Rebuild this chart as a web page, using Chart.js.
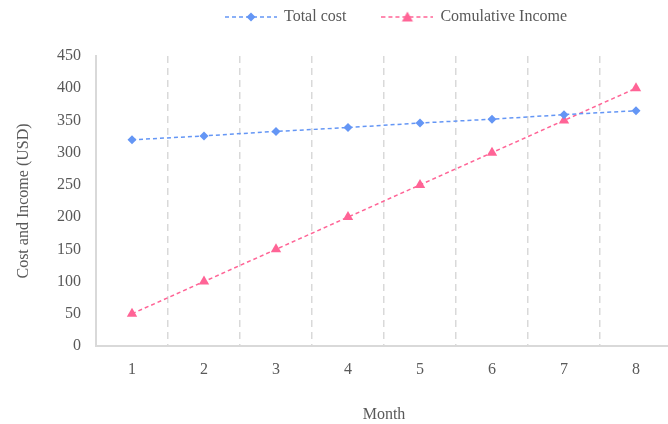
<!DOCTYPE html>
<html>
<head>
<meta charset="utf-8">
<script src="https://cdn.jsdelivr.net/npm/chart.js@4/dist/chart.umd.min.js"></script>
<style>
  html, body { margin: 0; padding: 0; background: #fff; overflow: hidden; }
  #wrap { width: 668px; height: 424px; overflow: hidden; }
</style>
</head>
<body>
<div id="wrap"><canvas id="chart" width="680" height="424"></canvas></div>
<script>
// data
var months = ["1", "2", "3", "4", "5", "6", "7", "8"];
var totalCost = [320, 326, 333, 339, 346, 352, 359, 365];
var cumIncome = [50, 100, 150, 200, 250, 300, 350, 400];
var yTicks = [0, 50, 100, 150, 200, 250, 300, 350, 400, 450];

var blue = "#6496f5";
var pink = "#ff6496";
var grey = "#595959";
var font = "'Liberation Serif', 'Times New Roman', serif";

// legend sample: dashed line with the marker in the middle
function legendSample(color, shape) {
    var c = document.createElement("canvas");
    c.width = 52; c.height = 14;
    var g = c.getContext("2d");
    g.strokeStyle = color;
    g.lineWidth = 1.5;
    g.setLineDash([4, 3]);
    g.beginPath(); g.moveTo(0, 7); g.lineTo(52, 7); g.stroke();
    g.fillStyle = color;
    g.beginPath();
    if (shape == "diamond") {
        g.moveTo(26, 2.5); g.lineTo(30.5, 7); g.lineTo(26, 11.5); g.lineTo(21.5, 7);
    } else {
        g.moveTo(26, 1.5); g.lineTo(31.5, 11.5); g.lineTo(20.5, 11.5);
    }
    g.closePath(); g.fill();
    return c;
}
var samples = [legendSample(blue, "diamond"), legendSample(pink, "triangle")];

var legendGap = 36;

var legendPlace = {
    id: "legendPlace",
    beforeLayout: function (chart) {
        var lg = chart.legend;
        if (lg && !lg._wrapped) {
            var f = lg.fit;
            lg.fit = function () { f.call(this); this.height = 56; };
            lg._wrapped = true;
        }
    },
    afterLayout: function (chart) {
        var lg = chart.legend;
        lg.left = 226 - legendGap;
        lg.top = 17 - legendGap - 8;
    }
};

var ctx = document.getElementById("chart").getContext("2d");

var chart = new Chart(ctx, {
    type: "line",
    data: {
        labels: months,
        datasets: [{
            label: "Total cost",
            data: totalCost,
            borderColor: blue,
            backgroundColor: blue,
            borderWidth: 1.5,
            borderDash: [4, 3],
            pointStyle: "rectRot",
            pointRadius: 4.5,
            pointBorderWidth: 0,
            fill: false
        }, {
            label: "Comulative Income",
            data: cumIncome,
            borderColor: pink,
            backgroundColor: pink,
            borderWidth: 1.5,
            borderDash: [4, 3],
            pointStyle: "triangle",
            pointRadius: 6,
            pointBorderWidth: 0,
            fill: false
        }]
    },
    options: {
        responsive: false,
        animation: false,
        layout: { padding: { left: 0, right: 8, top: 0, bottom: 0 } },
        plugins: {
            tooltip: { enabled: false },
            legend: {
                position: "top",
                align: "start",
                labels: {
                    usePointStyle: true,
                    pointStyleWidth: 50,
                    padding: legendGap,
                    color: grey,
                    font: { family: font, size: 16 },
                    generateLabels: function (chart) {
                        return Chart.defaults.plugins.legend.labels.generateLabels(chart).map(function (l, i) {
                            l.pointStyle = samples[i];
                            return l;
                        });
                    }
                }
            }
        },
        scales: {
            x: {
                offset: true,
                grid: {
                    offset: true,
                    color: "#d9d9d9",
                    lineWidth: 1.5,
                    drawTicks: false
                },
                border: { color: "#d9d9d9", width: 2, dash: [7, 5] },
                ticks: { color: grey, font: { family: font, size: 16 }, padding: 14 },
                title: {
                    display: true,
                    text: "Month",
                    color: grey,
                    font: { family: font, size: 16 },
                    padding: { top: 0, bottom: 0 }
                },
                afterFit: function (s) { s.height = 78; }
            },
            y: {
                min: 0,
                max: 450,
                grid: { display: false, drawTicks: false },
                border: { color: "#d9d9d9", width: 2 },
                afterBuildTicks: function (s) {
                    s.ticks = yTicks.map(function (v) { return { value: v }; });
                },
                ticks: { color: grey, font: { family: font, size: 16 }, padding: 15 },
                title: {
                    display: true,
                    text: "Cost and Income (USD)",
                    color: grey,
                    font: { family: font, size: 16 },
                    padding: { top: 14, bottom: 0 }
                },
                afterFit: function (s) { s.width = 96; }
            }
        }
    },
    plugins: [legendPlace]
});
</script>
</body>
</html>
